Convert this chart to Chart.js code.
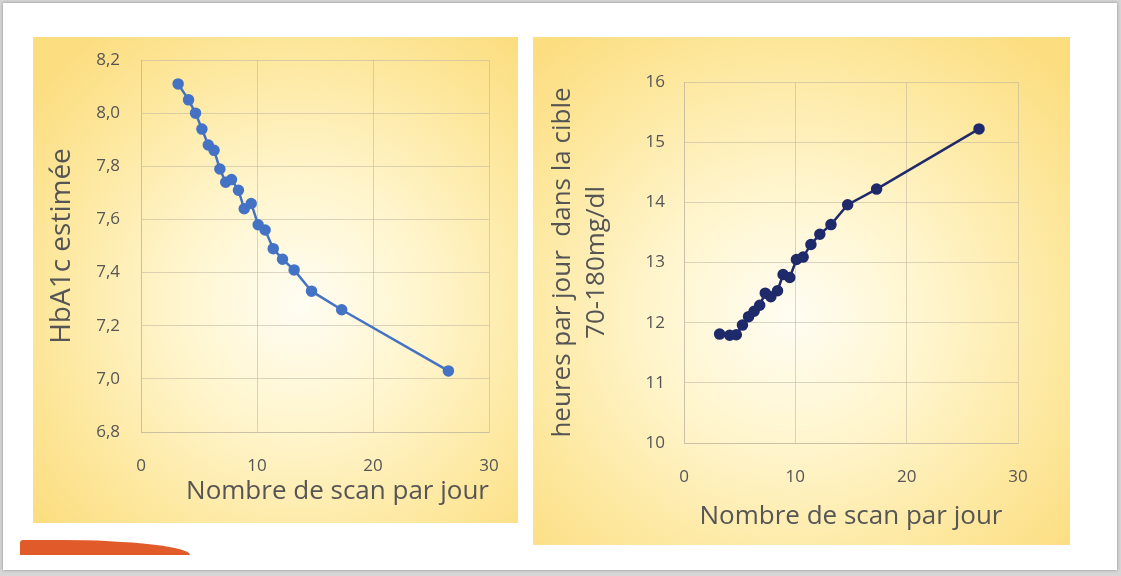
<!DOCTYPE html>
<html>
<head>
<meta charset="utf-8">
<script src="https://cdn.jsdelivr.net/npm/chart.js@4.4.0/dist/chart.umd.min.js"></script>
<style>
  html, body { margin: 0; padding: 0; }
  body { width: 1121px; height: 576px; background: #d6d6d6; position: relative; overflow: hidden; }
  .card { position: absolute; left: 3px; top: 3px; width: 1114px; height: 567px; background: #fff;
          box-shadow: 0 0 3px rgba(0,0,0,0.35); }
  .panel { position: absolute; }
  #p1 { left: 33px; top: 37px; width: 485px; height: 486px;
        background: radial-gradient(ellipse 70% 70% at 55% 55%, #fffdf3 0%, #fff4c9 40%, #fde79c 75%, #fcdd80 100%); }
  #p2 { left: 533px; top: 37px; width: 537px; height: 508px;
        background: radial-gradient(ellipse 70% 70% at 48% 55%, #fffdf3 0%, #fff4c9 40%, #fde79c 75%, #fcdd80 100%); }
  .swoosh { position: absolute; left: 20px; top: 540px; width: 170px; height: 15px; background: #e05a2a;
            border-top-right-radius: 130px 15px; border-top-left-radius: 3px; }
</style>
</head>
<body>
<div class="card"></div>
<div class="panel" id="p1"><canvas id="c1" width="485" height="486"></canvas></div>
<div class="panel" id="p2"><canvas id="c2" width="537" height="508"></canvas></div>
<div class="swoosh"></div>
<script>
// scans per day (shared x values)
const scans = [3.2, 4.1, 4.7, 5.25, 5.8, 6.3, 6.8, 7.3, 7.8, 8.4, 8.9, 9.5, 10.1, 10.7, 11.4, 12.2, 13.2, 14.7, 17.3, 26.5];
// left: estimated HbA1c
const hba1c = [8.11, 8.05, 8.00, 7.94, 7.88, 7.86, 7.79, 7.74, 7.75, 7.71, 7.64, 7.66, 7.58, 7.56, 7.49, 7.45, 7.41, 7.33, 7.26, 7.03];
// right: hours per day in range
const hoursInRange = [11.81, 11.79, 11.80, 11.96, 12.10, 12.19, 12.29, 12.49, 12.43, 12.53, 12.80, 12.75, 13.05, 13.09, 13.30, 13.47, 13.63, 13.96, 14.22, 15.22];

const xTitle = 'Nombre de scan par jour';
const leftTitle = 'HbA1c estimée';
const rightTitle = ['heures par jour  dans la cible', '70-180mg/dl'];

const txt = '#555555';
const gridCol = 'rgba(190,180,160,0.55)';
const fam = '"Open Sans", sans-serif';

function pts(ys) {
  return scans.map((x, i) => ({ x: x, y: ys[i] }));
}

function makeConfig(ys, color, yMin, yMax, step, yTitle, opt) {
  return {
    type: 'scatter',
    data: {
      datasets: [{
        data: pts(ys),
        showLine: true,
        borderColor: color,
        backgroundColor: color,
        borderWidth: 2.5,
        pointRadius: 4.5,
        pointHoverRadius: 4.5
      }]
    },
    options: {
      responsive: false,
      animation: false,
      plugins: { legend: { display: false }, tooltip: { enabled: false } },
      layout: { padding: { top: opt.top, right: opt.right, bottom: 0, left: 0 } },
      scales: {
        x: {
          min: 0, max: 30,
          ticks: { stepSize: 10, color: txt, padding: opt.xPad, font: { family: fam, size: 17 } },
          grid: { color: gridCol, drawTicks: false },
          border: { color: gridCol },
          title: { display: true, text: xTitle, color: txt, align: opt.xAlign,
                   padding: { top: 0, bottom: opt.xTitlePad }, font: { family: fam, size: 26 } },
          // fixed box, no label overhang so the plot area is set by layout padding
          afterFit: s => { s.height = opt.xH; s.paddingLeft = 0; s.paddingRight = 0; }
        },
        y: {
          min: yMin, max: yMax,
          ticks: { stepSize: step, color: txt, padding: opt.yPad, font: { family: fam, size: 17 },
                   callback: v => opt.fmt(v) },
          grid: { color: gridCol, drawTicks: false },
          border: { color: gridCol },
          title: { display: true, text: yTitle, color: txt, padding: { top: opt.yTitlePad, bottom: 0 },
                   font: { family: fam, size: opt.ySize, lineHeight: opt.yLH } },
          afterFit: s => { s.width = opt.yW; s.paddingTop = 0; s.paddingBottom = 0; }
        }
      }
    }
  };
}

new Chart(document.getElementById('c1'), makeConfig(hba1c, '#4472c4', 6.8, 8.2, 0.2, leftTitle, {
  top: 23, right: 29, xH: 91, yW: 108, xPad: 24, yPad: 21, xTitlePad: 16, xAlign: 'end',
  yTitlePad: 12, yLH: 1.2, ySize: 28,
  fmt: v => v.toFixed(1).replace('.', ',')
}));

new Chart(document.getElementById('c2'), makeConfig(hoursInRange, '#1f2a6b', 10, 16, 1, rightTitle, {
  top: 45, right: 52, xH: 102, yW: 151, xPad: 24, yPad: 19, xTitlePad: 13, xAlign: 'center',
  yTitlePad: 12, yLH: 1.32, ySize: 26,
  fmt: v => String(v)
}));
</script>
</body>
</html>
